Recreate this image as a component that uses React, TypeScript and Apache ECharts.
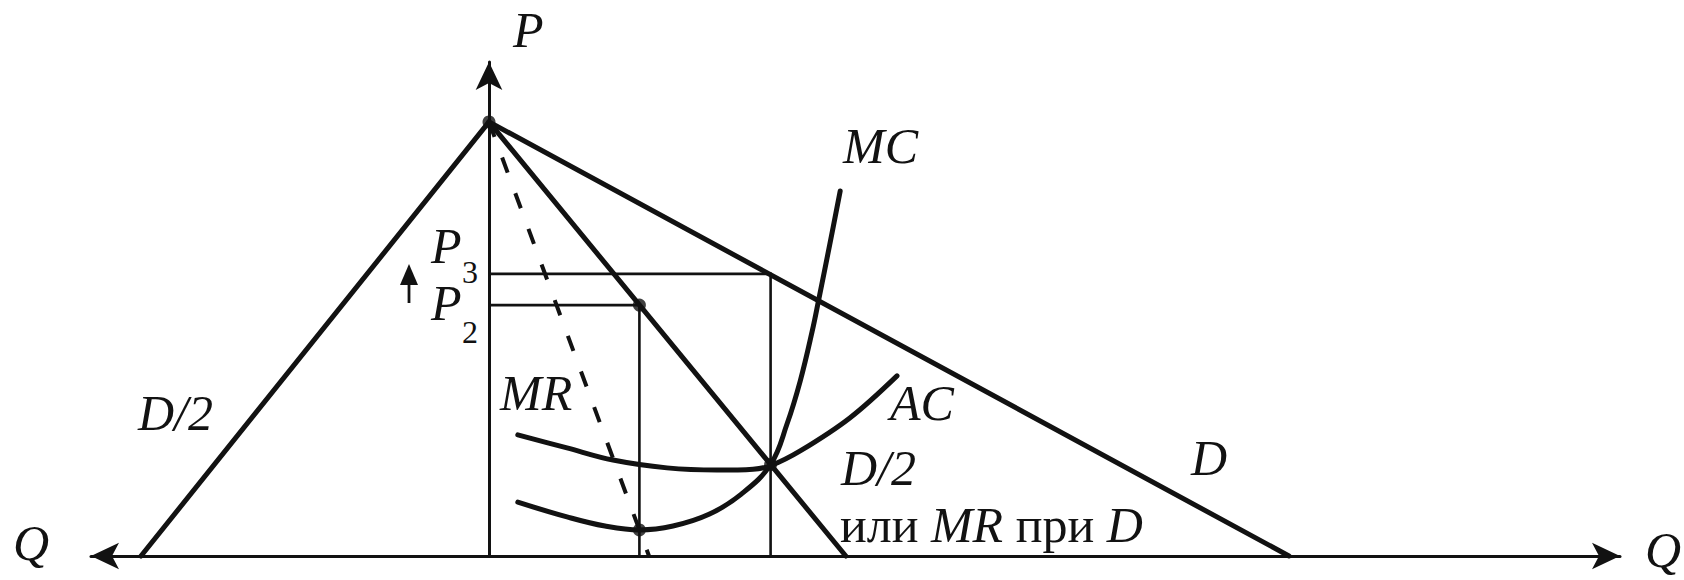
import React, { useEffect, useRef } from "react";
import * as echarts from "echarts";

// Demand and revenue lines (Q, P)
const demandD = [[0, 100], [100, 0]];
const halfDemandRight = [[0, 100], [44.6, 0]];
const halfDemandLeft = [[0, 100], [-43.5, 0]];
const marginalRevenueHalf = [[0, 100], [20, 0]];

// Cost curves (Q, P)
const mcCurve = [
  [3.6, 12.4], [9.75, 9.0], [14.5, 6.9], [18.8, 6.0], [23, 6.9],
  [27.5, 9.6], [31.5, 14.2], [35.2, 21.1], [37.25, 30.4], [38.9, 40.3],
  [40.4, 51.8], [41.25, 59.4], [42.6, 71.8], [43.9, 84.1],
];
const acCurve = [
  [3.6, 27.9], [9.75, 24.9], [15.5, 22.1], [22.25, 20.3], [28.5, 19.8],
  [33, 20.0], [35.2, 20.8], [38.9, 24.2], [45.1, 31.8], [51, 41.5],
];

// Price levels and quantities
const priceP3 = 65;
const quantityQ3 = 35.2;
const priceP2 = 57.8;
const quantityQ2 = 18.8;
const keyPoints = [[0, 100], [18.8, 57.8], [35.2, 21.1], [18.8, 6.0]];

const INK = "#121212";
const FONT = "'Liberation Serif', 'DejaVu Serif', serif";

export default function App() {
  const ref = useRef<HTMLDivElement>(null);
  useEffect(() => {
    document.body.style.margin = "0";
    const chart = echarts.init(ref.current!, null, { renderer: "svg" });
    const thick = (data: number[][], extra: any = {}) => ({
      type: "line",
      data,
      symbol: "none",
      silent: true,
      clip: false,
      ...extra,
      lineStyle: { color: INK, width: 5, cap: "round", join: "round", ...(extra.lineStyle || {}) },
    });
    const label = (text: string, x: number, y: number, size = 50, style = "italic") => ({
      type: "text",
      x,
      y,
      style: {
        text,
        fill: INK,
        font: `${style} ${size}px ${FONT}`,
        verticalAlign: "middle",
        align: "left",
      },
    });
    chart.setOption({
      animation: false,
      backgroundColor: "#ffffff",
      grid: { left: 91, right: 64, top: 62, bottom: 24 },
      xAxis: {
        type: "value",
        min: -49.75,
        max: 141.375,
        axisLine: {
          show: true,
          onZero: true,
          symbol: ["arrow", "arrow"],
          symbolSize: [20, 28],
          lineStyle: { color: INK, width: 3 },
        },
        axisTick: { show: false },
        axisLabel: { show: false },
        splitLine: { show: false },
      },
      yAxis: {
        type: "value",
        min: 0,
        max: 113.8,
        axisLine: {
          show: true,
          onZero: true,
          symbol: ["none", "arrow"],
          symbolSize: [20, 28],
          lineStyle: { color: INK, width: 3 },
        },
        axisTick: { show: false },
        axisLabel: { show: false },
        splitLine: { show: false },
      },
      series: [
        thick([[0, priceP3], [quantityQ3, priceP3], [quantityQ3, 0]], { lineStyle: { width: 2.6, cap: "butt", join: "miter" } }),
        thick([[0, priceP2], [quantityQ2, priceP2], [quantityQ2, 0]], { lineStyle: { width: 2.6, cap: "butt", join: "miter" } }),
        thick(demandD),
        thick(halfDemandRight),
        thick(halfDemandLeft),
        thick(marginalRevenueHalf, { lineStyle: { width: 4, type: [16, 22], cap: "butt" } }),
        thick(mcCurve, { smooth: 0.4 }),
        thick(acCurve, { smooth: 0.35 }),
        {
          type: "scatter",
          data: keyPoints,
          symbol: "circle",
          symbolSize: 13,
          silent: true,
          itemStyle: { color: INK },
        },
      ],
      graphic: [
        label("P", 513, 30),
        label("MC", 843, 146),
        label("AC", 890, 403),
        label("D/2", 841, 468),
        {
          type: "text",
          x: 840,
          y: 525,
          style: {
            text: "{n|или }{i|MR}{n| при }{i|D}",
            verticalAlign: "middle",
            align: "left",
            rich: {
              n: { fontFamily: FONT, fontSize: 50, fontStyle: "normal", fill: INK },
              i: { fontFamily: FONT, fontSize: 50, fontStyle: "italic", fill: INK },
            },
          },
        },
        label("D", 1191, 458),
        label("MR", 500, 393),
        label("D/2", 138, 413),
        label("Q", 13, 543),
        label("Q", 1645, 550),
        label("P", 431, 246),
        label("3", 462, 272, 32, "normal"),
        label("P", 431, 303),
        label("2", 462, 332, 32, "normal"),
        {
          type: "line",
          shape: { x1: 409, y1: 303, x2: 409, y2: 280 },
          style: { stroke: INK, lineWidth: 2.8 },
        },
        {
          type: "polygon",
          shape: { points: [[409, 264], [400, 285], [418, 285]] },
          style: { fill: INK },
        },
      ],
    });
    return () => chart.dispose();
  }, []);
  return <div ref={ref} style={{ width: 1684, height: 580 }} />;
}
